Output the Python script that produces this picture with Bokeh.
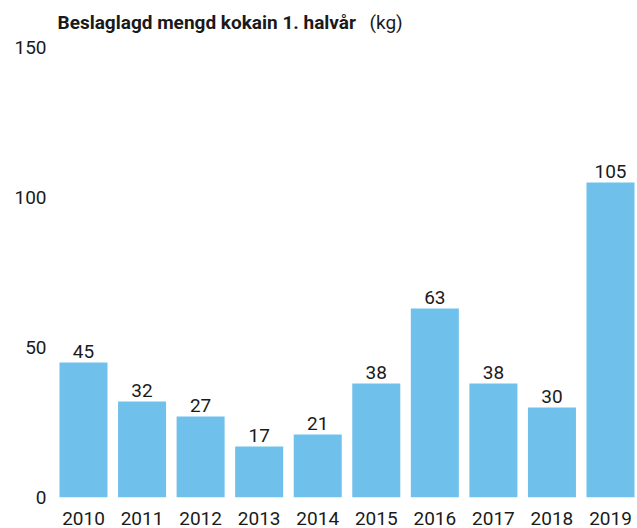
from bokeh.plotting import figure
from bokeh.models import ColumnDataSource, FixedTicker, Range1d
from bokeh.embed import file_html
from bokeh.resources import INLINE
from bokeh.core.properties import value

years = [2010, 2011, 2012, 2013, 2014, 2015, 2016, 2017, 2018, 2019]
amounts = [45, 32, 27, 17, 21, 38, 63, 38, 30, 105]
y_ticks = [0, 50, 100, 150]
title_bold = "Beslaglagd mengd kokain 1. halvår"
title_unit = "(kg)"

FONT = "Roboto"
BAR = "#6fc1ec"
TXT = "#1a1a1a"

X0, X1 = 2009.4365, 2019.461
Y_TOP = 165.67  # frame extends to canvas top so the title can sit inside it

src = ColumnDataSource(dict(x=years, top=amounts, label=[str(v) for v in amounts]))

p = figure(width=637, height=528, output_backend="svg", toolbar_location=None,
           x_range=Range1d(X0, X1), y_range=Range1d(0, Y_TOP),
           min_border_left=50, min_border_right=0, min_border_top=0, min_border_bottom=31)
p.outline_line_color = None
p.background_fill_color = "white"
p.border_fill_color = "white"

p.vbar(x="x", top="top", width=0.82, source=src, color=BAR, line_color=None)
p.text(x="x", y="top", text="label", source=src, text_align="center", text_baseline="bottom",
       y_offset=-5, text_font=value(FONT), text_font_size="19px", text_color=TXT)

# title (bold part + unit) drawn as text anchored at the frame's top-left
p.text(x=[X0], y=[Y_TOP], text=[title_bold], x_offset=7, y_offset=22, text_baseline="alphabetic",
       text_font=value(FONT), text_font_size="19px", text_font_style="bold", text_color=TXT)
p.text(x=[X0], y=[Y_TOP], text=[title_unit], x_offset=319, y_offset=22, text_baseline="alphabetic",
       text_font=value(FONT), text_font_size="19px", text_color=TXT)

p.xgrid.visible = False
p.ygrid.visible = False

p.xaxis.ticker = FixedTicker(ticks=years)
p.xaxis.major_label_overrides = {y: str(y) for y in years}
p.yaxis.ticker = FixedTicker(ticks=y_ticks)
for ax in (p.xaxis[0], p.yaxis[0]):
    ax.axis_line_color = None
    ax.major_tick_line_color = None
    ax.minor_tick_line_color = None
    ax.major_tick_out = 0
    ax.major_tick_in = 0
    ax.minor_tick_out = 0
    ax.major_label_text_font = FONT
    ax.major_label_text_font_size = "19px"
    ax.major_label_text_color = TXT
p.xaxis.major_label_standoff = 14
p.yaxis.major_label_standoff = 4

open("out.html", "w").write(file_html(p, INLINE))
